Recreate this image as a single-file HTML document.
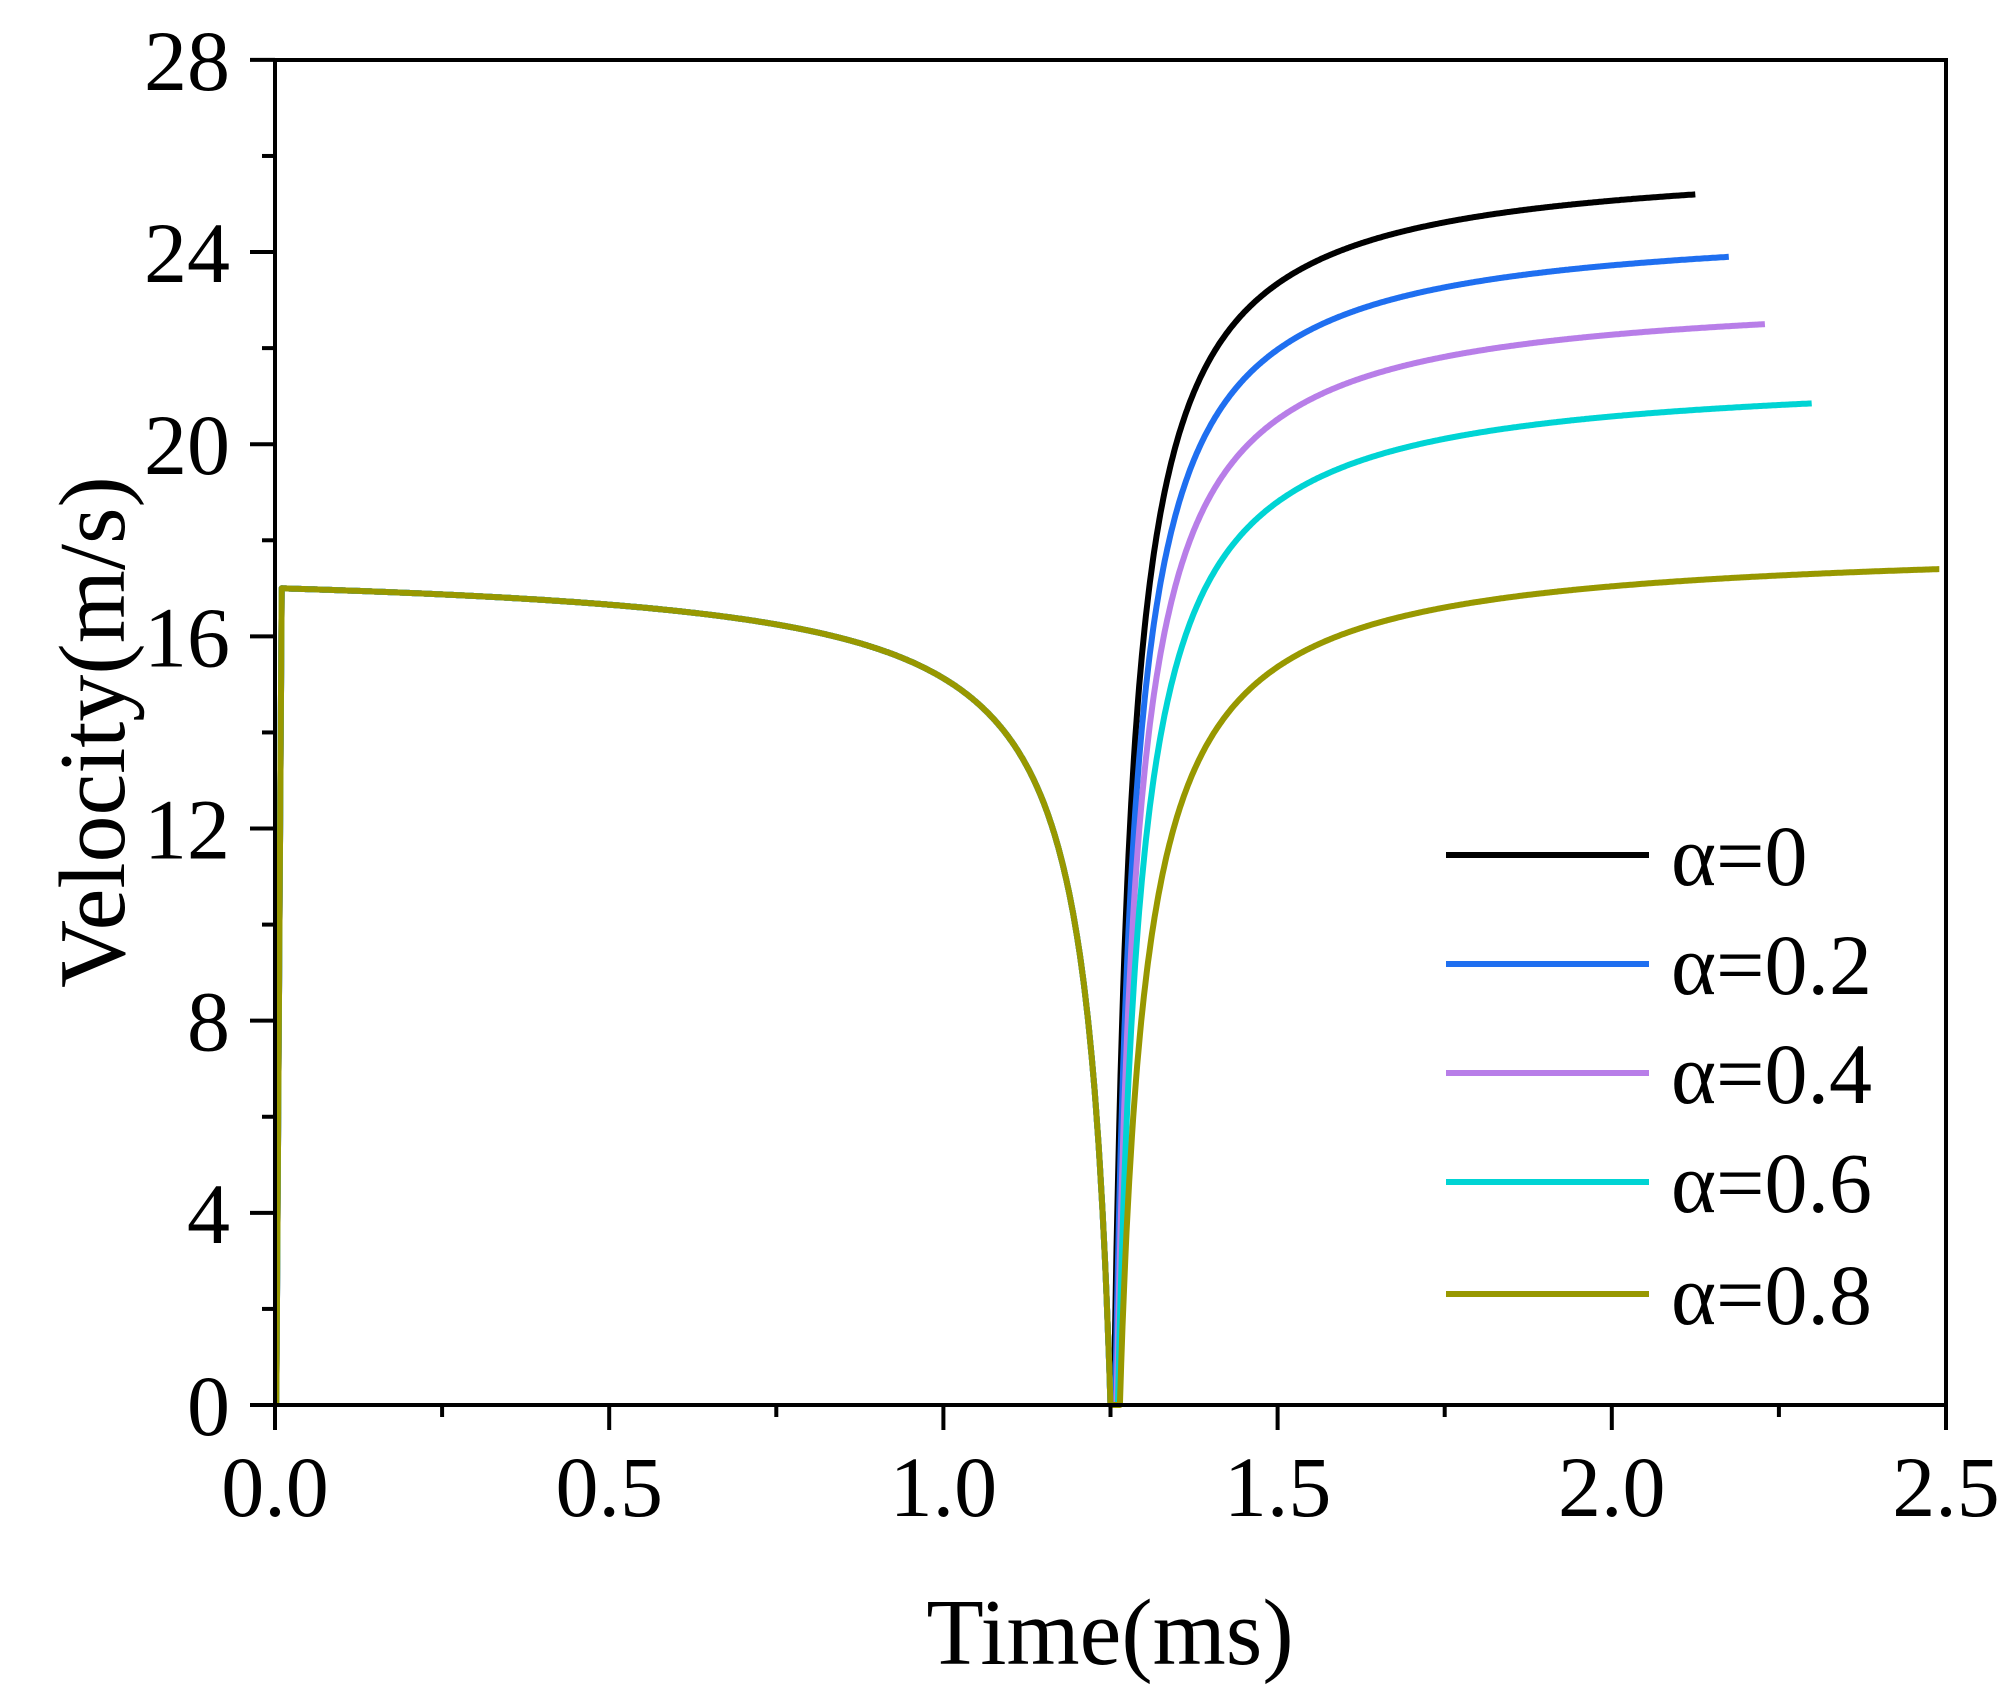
<!DOCTYPE html>
<html><head><meta charset="utf-8"><style>
html,body{margin:0;padding:0;background:#fff;}
svg text{font-family:"Liberation Serif",serif;fill:#000;}
</style></head><body>
<svg id="s" width="2015" height="1700" viewBox="0 0 2015 1700" xmlns="http://www.w3.org/2000/svg">
<g id="curves" fill="none" stroke-width="6" stroke-linejoin="round"></g>
<rect x="275" y="60" width="1671" height="1345" fill="none" stroke="#000" stroke-width="4"/>
<g id="ticks" stroke="#000" stroke-width="4"></g>
<g id="labels" font-size="86"></g>
<text x="1110" y="1664" font-size="94" text-anchor="middle">Time(ms)</text>
<text transform="translate(124,732) rotate(-90)" font-size="94" text-anchor="middle">Velocity(m/s)</text>
<g id="legend" font-size="86"></g>
</svg>
<script>
var X=function(t){return 275+t*668.4;},Y=function(v){return 1405-v*48.04;};
var ns="http://www.w3.org/2000/svg";
function el(p,n,a,txt){var e=document.createElementNS(ns,n);for(var k in a)e.setAttribute(k,a[k]);if(txt!=null)e.textContent=txt;document.getElementById(p).appendChild(e);return e;}
var t,i;
for(i=0;i<=10;i++){t=i*0.25;var maj=i%2==0;el("ticks","line",{x1:X(t),y1:1405,x2:X(t),y2:maj?1430:1417});
 if(maj)el("labels","text",{x:X(t),y:1516,"text-anchor":"middle"},(t).toFixed(1));}
for(i=0;i<=14;i++){var v=i*2,maj=i%2==0;el("ticks","line",{x1:275,y1:Y(v),x2:maj?250:262,y2:Y(v)});
 if(maj)el("labels","text",{x:230,y:Y(v)+30,"text-anchor":"end"},String(v));}
var series=[["#000",1.255,2.125,25.2,0.028],["#1f6ff0",1.257,2.175,23.9,0.03],["#b87ee8",1.259,2.23,22.5,0.032],["#00d4d4",1.261,2.30,20.85,0.035],["#989800",1.264,2.49,17.4,0.04]];
var cf=0.04,nf=1.24/(1.24+cf);
for(var si=0;si<series.length;si++){var s=series[si];var pts=[];
 pts.push([X(0.002),Y(0)]);pts.push([X(0.01),Y(17)]);
 for(t=0.01;t<1.25;t+=0.002){var u=1.25-t;pts.push([X(t),Y(17*(u/(u+cf))/nf)]);}
 pts.push([X(1.25),Y(0)]);
 var c=s[4],U=s[2]-s[1],nn=U/(U+c);
 for(t=s[1];t<=s[2]+1e-9;t+=0.002){var u2=t-s[1];pts.push([X(t),Y(s[3]*(u2/(u2+c))/nn)]);}
 el("curves","polyline",{stroke:s[0],points:pts.map(function(p){return p[0].toFixed(1)+","+p[1].toFixed(1)}).join(" ")});}
var labs=["α=0","α=0.2","α=0.4","α=0.6","α=0.8"],ys=[855,964,1073,1182,1294];
for(i=0;i<5;i++){el("legend","line",{x1:1446,y1:ys[i],x2:1649,y2:ys[i],stroke:series[i][0],"stroke-width":6});
 el("legend","text",{x:1671,y:ys[i]+30},labs[i]);}
</script>
</body></html>
